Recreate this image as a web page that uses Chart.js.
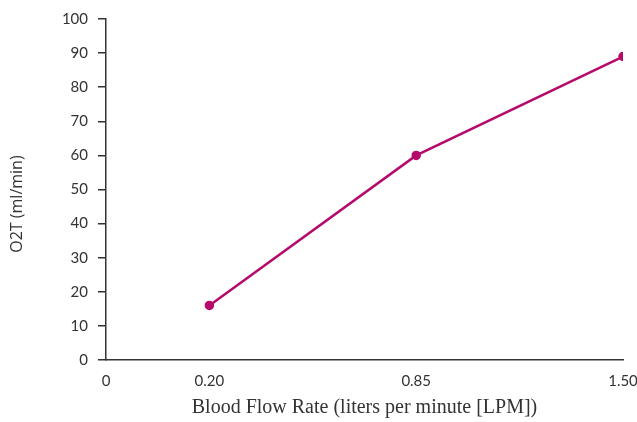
<!DOCTYPE html>
<html>
<head>
<meta charset="utf-8">
<script src="https://cdn.jsdelivr.net/npm/chart.js@4/dist/chart.umd.min.js"></script>
<style>
  body { margin: 0; background: #fff; }
  #wrap { width: 637px; height: 422px; }
</style>
</head>
<body>
<div id="wrap"><canvas id="myChart"></canvas></div>
<script>
// Etiquetas del eje X (el 0 va en el origen, las demás a intervalos)
const xTickLabels = ['0', '0.20', '0.85', '1.50'];
const flowRates = ['0.20', '0.85', '1.50'];
const o2t = [16, 60, 89];
const yTicks = [0, 10, 20, 30, 40, 50, 60, 70, 80, 90, 100];

// posición de cada etiqueta sobre el eje (el origen está a media separación)
const tickPos = xTickLabels.map((l, i) => i === 0 ? 0 : i - 0.5);
const points = flowRates.map((r, i) => ({ x: tickPos[xTickLabels.indexOf(r)], y: o2t[i] }));

const axisColor = '#333333';
const lineColor = '#b5096b';

const ctx = document.getElementById('myChart').getContext('2d');

const myChart = new Chart(ctx, {
    type: 'line',
    data: {
        datasets: [{
            label: 'O2T',
            data: points,
            borderColor: lineColor,
            backgroundColor: lineColor,
            borderWidth: 2.5,
            pointRadius: 3.5,
            pointHoverRadius: 3.5,
            tension: 0
        }]
    },
    options: {
        responsive: true,
        maintainAspectRatio: false,
        animation: false,
        layout: { padding: { top: 16, right: 14, bottom: 0, left: 0 } },
        plugins: {
            legend: { display: false },
            tooltip: { enabled: false }
        },
        scales: {
            x: {
                type: 'linear',
                min: 0,
                max: tickPos[tickPos.length - 1],
                afterBuildTicks: (scale) => {
                    scale.ticks = tickPos.map(v => ({ value: v }));
                },
                // altura fija del eje y sin margen extra por la última etiqueta
                afterFit: (scale) => {
                    scale.height = 62;
                    scale.paddingRight = 0;
                    scale.paddingLeft = 0;
                },
                grid: { display: false },
                border: { display: true, color: axisColor, width: 1.5 },
                ticks: {
                    color: axisColor,
                    padding: 4,
                    maxRotation: 0,
                    autoSkip: false,
                    font: { family: 'Lato', size: 15 },
                    callback: (value, index) => xTickLabels[index]
                },
                title: {
                    display: true,
                    text: 'Blood Flow Rate (liters per minute [LPM])',
                    color: axisColor,
                    font: { family: 'Liberation Serif', size: 20 },
                    padding: { top: 0, bottom: 2 }
                }
            },
            y: {
                min: 0,
                max: 100,
                afterBuildTicks: (scale) => {
                    scale.ticks = yTicks.map(v => ({ value: v }));
                },
                afterFit: (scale) => { scale.width = 106; },
                grid: {
                    drawOnChartArea: false,
                    drawTicks: true,
                    tickLength: 8,
                    color: axisColor,
                    lineWidth: 1.5
                },
                border: { display: true, color: axisColor, width: 1.5 },
                ticks: {
                    color: axisColor,
                    padding: 10,
                    font: { family: 'Lato', size: 15 }
                },
                title: {
                    display: true,
                    text: 'O2T (ml/min)       ',
                    color: axisColor,
                    font: { family: 'Open Sans', size: 16 },
                    padding: { top: 8, bottom: 0 }
                }
            }
        }
    }
});
</script>
</body>
</html>
